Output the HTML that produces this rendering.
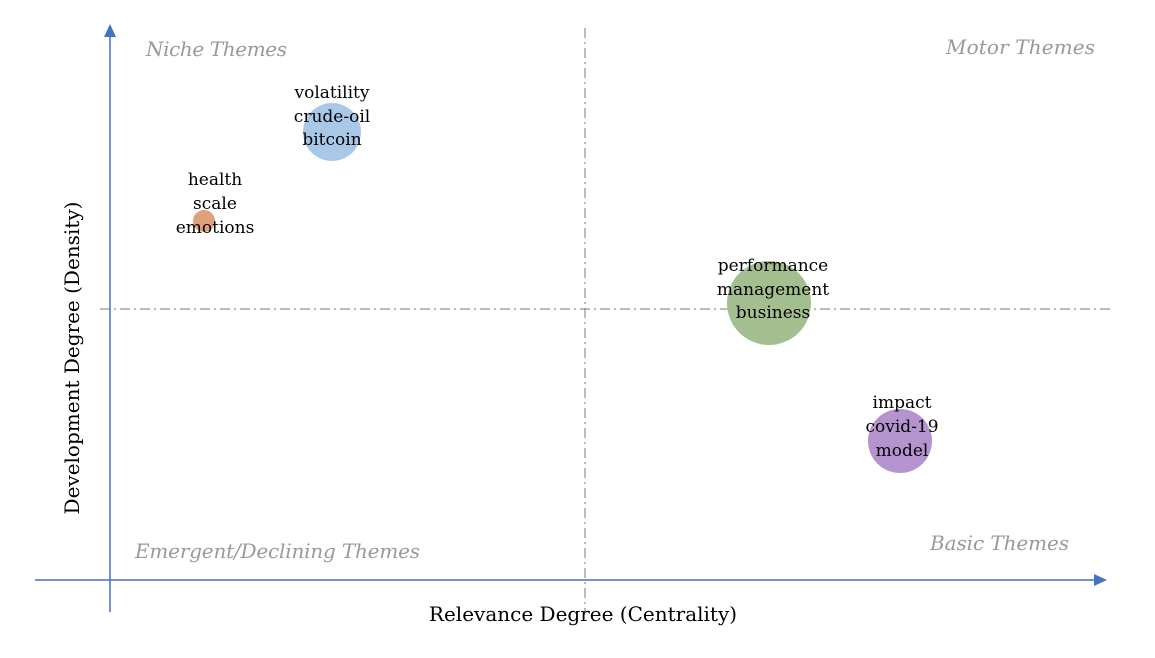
<!DOCTYPE html><html><head><style>body{margin:0;background:#fff}</style></head><body>
<svg width="1155" height="658" xmlns="http://www.w3.org/2000/svg" style="display:block">
<g stroke="#777" stroke-width="1" stroke-dasharray="10,4,2,4">
<line x1="585" y1="28" x2="585" y2="612"/>
<line x1="100" y1="309" x2="1110" y2="309"/>
</g>
<g stroke="#4472c4" stroke-width="1.5" fill="#4472c4">
<line x1="110" y1="34" x2="110" y2="612"/>
<polygon points="110,24 104,37 116,37" stroke="none"/>
<line x1="35" y1="580" x2="1096" y2="580"/>
<polygon points="1107,580 1094,574 1094,586" stroke="none"/>
</g>
<circle cx="332" cy="132" r="29" fill="#a9c8e8"/>
<circle cx="204" cy="221" r="11" fill="#e0a07c"/>
<circle cx="769" cy="303" r="42" fill="#a3bf90"/>
<circle cx="900" cy="441" r="32" fill="#b593cf"/>
<g font-family="DejaVu Serif, serif" font-style="italic" font-size="20" fill="#999">
<text x="146" y="56" textLength="141">Niche Themes</text>
<text x="946" y="54" textLength="149">Motor Themes</text>
<text x="135" y="558" textLength="285">Emergent/Declining Themes</text>
<text x="930" y="550" textLength="139">Basic Themes</text>
</g>
<g font-family="DejaVu Serif, serif" font-size="17" fill="#000" text-anchor="middle">
<text x="332" y="98">volatility</text><text x="332" y="122">crude-oil</text><text x="332" y="145">bitcoin</text>
<text x="215" y="185">health</text><text x="215" y="209">scale</text><text x="215" y="233">emotions</text>
<text x="773" y="271">performance</text><text x="773" y="295">management</text><text x="773" y="318">business</text>
<text x="902" y="408">impact</text><text x="902" y="432">covid-19</text><text x="902" y="456">model</text>
</g>
<g font-family="DejaVu Serif, serif" font-size="20" fill="#000" text-anchor="middle">
<text x="583" y="621">Relevance Degree (Centrality)</text>
<text transform="translate(79,358) rotate(-90)">Development Degree (Density)</text>
</g>
</svg></body></html>
